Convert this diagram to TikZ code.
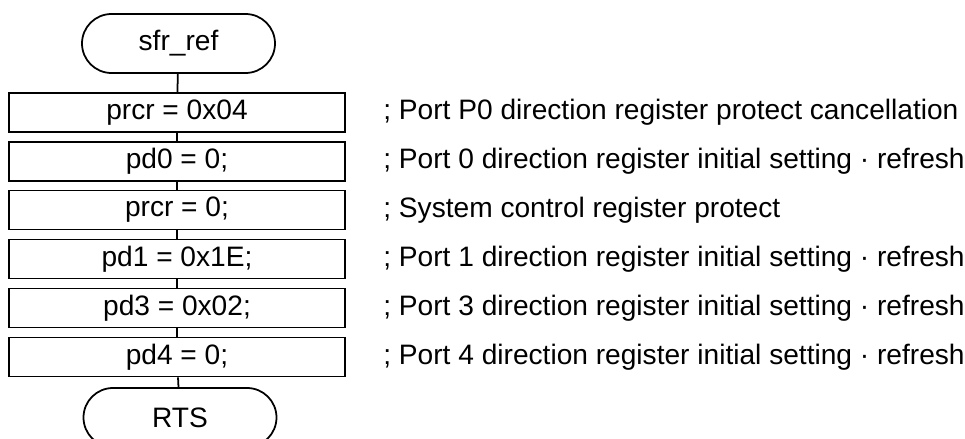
\documentclass[tikz,border=0pt]{standalone}
\usepackage{fontspec}
\setmainfont{Liberation Sans}
\usetikzlibrary{positioning}
\definecolor{Ink}{HTML}{000000}

\begin{document}
\begin{tikzpicture}[
  font=\fontsize{16}{19}\selectfont,
  terminal/.style={
    rectangle,
    rounded corners=0.59cm,
    draw=Ink,
    line width=1pt,
    minimum width=3.86cm,
    minimum height=1.18cm,
    text=Ink
  },
  process/.style={
    rectangle,
    draw=Ink,
    line width=1pt,
    minimum width=6.72cm,
    minimum height=0.78cm,
    inner sep=0pt,
    text=Ink
  },
  remark/.style={
    anchor=west,
    inner sep=0pt,
    text=Ink
  },
  flow/.style={
    draw=Ink,
    line width=1pt
  }
]

\useasboundingbox (0,0) rectangle (19.3,-8.78);
\clip (0,0) rectangle (19.3,-8.78);

% flow chart
\node[terminal] (start) at (3.57,-0.87) {sfr\_ref};

\node[process] (prcrOn)  at (3.54,-2.25) {prcr = 0x04};
\node[process] (pdZero)  at (3.54,-3.23) {pd0 = 0;};
\node[process] (prcrOff) at (3.54,-4.20) {prcr = 0;};
\node[process] (pdOne)   at (3.54,-5.18) {pd1 = 0x1E;};
\node[process] (pdThree) at (3.54,-6.16) {pd3 = 0x02;};
\node[process] (pdFour)  at (3.54,-7.14) {pd4 = 0;};

\node[terminal] (rts) at (3.60,-8.35) {RTS};

\draw[flow] (start) -- (prcrOn);
\draw[flow] (prcrOn) -- (pdZero);
\draw[flow] (pdZero) -- (prcrOff);
\draw[flow] (prcrOff) -- (pdOne);
\draw[flow] (pdOne) -- (pdThree);
\draw[flow] (pdThree) -- (pdFour);
\draw[flow] (pdFour) -- (rts);

% comments
\node[remark] (notePrcrOn)  at (7.66,-2.25) {; Port P0 direction register protect cancellation};
\node[remark] (notePdZero)  at (7.66,-3.23) {; Port 0 direction register initial setting · refresh};
\node[remark] (notePrcrOff) at (7.66,-4.20) {; System control register protect};
\node[remark] (notePdOne)   at (7.66,-5.18) {; Port 1 direction register initial setting · refresh};
\node[remark] (notePdThree) at (7.66,-6.16) {; Port 3 direction register initial setting · refresh};
\node[remark] (notePdFour)  at (7.66,-7.14) {; Port 4 direction register initial setting · refresh};

\end{tikzpicture}
\end{document}
